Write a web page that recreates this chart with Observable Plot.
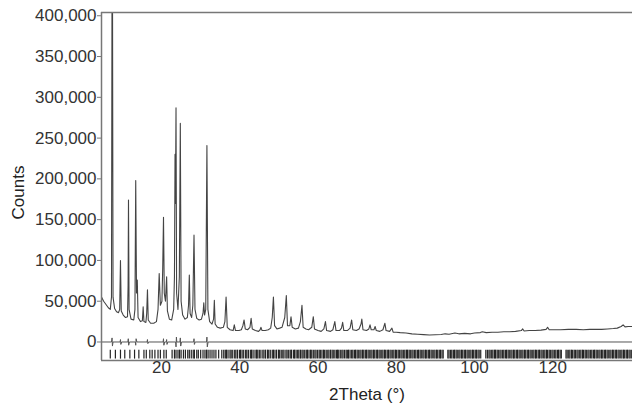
<!DOCTYPE html>
<html><head><meta charset="utf-8">
<script src="https://cdn.jsdelivr.net/npm/d3@7"></script>
<script src="https://cdn.jsdelivr.net/npm/@observablehq/plot@0.6"></script>
<style>body{margin:0;background:#fff} svg{display:block}</style>
</head><body><div id="chart"></div><script>
// Observed profile (2Theta in degrees, counts)
const twoTheta = [4.65,5.2,5.8,6.4,6.9,7.2,7.4,7.6,8.0,8.5,9.0,9.3,9.5,9.7,10.2,10.8,11.3,11.45,11.55,11.7,12.2,12.9,13.2,13.4,13.6,13.8,14.0,14.6,15.1,15.3,15.5,16.0,16.2,16.4,16.6,17.2,18.0,18.7,19.1,19.4,19.7,20.1,20.3,20.5,20.7,21.0,21.3,21.5,22.0,22.6,23.1,23.3,23.45,23.55,23.7,23.85,24.2,24.55,24.8,25.0,25.4,26.0,26.6,26.9,27.1,27.3,27.7,28.0,28.3,28.55,29.0,29.6,30.2,30.6,30.8,31.0,31.3,31.6,31.85,32.3,32.9,33.3,33.5,33.7,34.3,35.0,35.8,36.2,36.5,36.8,37.5,38.3,38.6,38.9,39.8,40.4,40.8,41.1,41.4,42.0,42.6,42.9,43.2,44.0,44.8,45.2,45.4,45.7,46.5,47.3,47.9,48.3,48.6,48.9,49.5,50.2,50.8,51.5,51.9,52.2,52.8,53.1,53.4,54.2,55.0,55.5,55.9,56.2,56.9,57.6,58.4,58.8,59.1,60.0,60.8,61.5,61.9,62.2,63.2,63.8,64.3,64.6,65.5,66.0,66.3,66.6,67.5,68.2,68.6,68.9,69.8,70.5,71.0,71.2,71.5,72.4,73.0,73.3,73.6,74.3,74.6,74.9,75.8,76.6,77.1,77.4,78.3,78.9,79.2,80.0,81.0,82.5,84.0,85.5,87.0,88.5,90.0,91.5,92.5,93.5,95.0,96.0,97.5,99.0,100.0,101.5,102.0,103.0,104.5,106.0,107.5,109.0,110.5,112.0,112.3,112.7,114.0,115.5,117.0,118.3,118.7,119.1,120.5,122.0,124.0,126.0,127.8,129.5,131.0,132.5,134.0,135.5,136.5,137.5,138.0,138.5,139.3,140.4];
const counts = [55000,50000,46000,42000,40000,55000,600000,55000,41000,37000,36000,40000,100000,38000,33000,30000,31000,70000,174000,40000,28000,27000,40000,198000,60000,76000,30000,25000,26000,43000,25000,24000,35000,64000,27000,23000,23000,25000,40000,84000,45000,50000,90000,153000,60000,50000,80000,38000,28000,27000,40000,80000,230000,170000,287000,60000,40000,80000,268000,50000,33000,28000,30000,45000,82000,35000,30000,45000,131000,40000,29000,27000,28000,35000,48000,33000,40000,241000,40000,25000,22000,28000,51000,22000,18000,17000,18000,25000,55000,18000,15000,14000,21000,14000,14000,15000,20000,27000,16000,15000,18000,29000,16000,14000,13000,15000,18000,14000,14000,15000,17000,30000,55000,20000,16000,17000,18000,30000,57000,20000,20000,31000,18000,16000,17000,25000,45000,18000,16000,15000,18000,31000,16000,14000,13000,16000,25000,14000,13000,15000,25000,14000,14000,17000,24000,14000,14000,17000,27000,15000,14000,16000,22000,28000,15000,14000,16000,21000,15000,15000,19000,14000,13000,15000,23000,14000,13000,17000,12000,12000,11500,11000,10000,9500,9000,8500,8800,9200,10000,9500,11000,10000,10500,10000,11000,11500,12500,11500,12000,12000,12500,12500,13000,14000,16000,13500,14000,14000,14500,15500,18000,15000,15000,15000,15500,15500,15000,15500,15500,15500,16000,16500,17000,19000,21000,18500,19000,19000];

// Difference curve (observed - calculated)
const diffTheta = [4.65,7.2,7.35,7.45,7.6,9.4,9.5,9.6,9.8,11.4,11.5,11.6,11.8,13.3,13.4,13.5,13.7,16.3,16.4,16.5,16.7,20.4,20.5,20.6,20.8,21.2,21.3,21.4,21.6,23.6,23.7,23.8,23.9,24.7,24.8,24.9,25.1,28.2,28.3,28.4,28.6,31.5,31.6,31.7,31.9,140.4];
const diffCounts = [0,0,5000,-5000,0,0,3000,-3000,0,0,4000,-4000,0,0,-4000,4000,0,0,3000,-2000,0,0,4000,-4000,0,0,3000,-3000,0,0,-6000,6000,0,0,5000,-5000,0,0,4000,-3000,0,0,6000,-6000,0,0];

// Reflection positions (2Theta)
const reflections = [6.9,8.2,9.5,10.6,11.9,13.1,14.2,15.5,16.1,17.0,17.6,18.3,19.1,19.7,20.6,21.2,22.7,23.3,23.7,24.2,24.6,25.0,25.6,26.1,26.7,27.1,27.6,28.1,28.4,29.0,29.4,30.0,30.6,31.1,31.5,31.9,32.4,32.9,33.4,33.9,34.6,35.4,35.9,36.3,36.6,37.0,37.5,37.8,38.2,38.7,39.0,39.4,39.9,40.2,40.6,41.0,41.5,41.8,42.2,42.7,43.0,43.4,43.9,44.3,44.6,45.0,45.4,45.9,46.2,46.6,47.1,47.4,47.8,48.3,48.6,49.0,49.4,49.9,50.2,50.6,51.0,51.3,51.8,52.1,52.5,52.9,53.2,53.7,54.0,54.4,54.8,55.1,55.5,55.9,56.2,56.6,57.0,57.3,57.7,58.1,58.4,58.8,59.2,59.5,59.9,60.3,60.6,61.0,61.4,61.7,62.1,62.5,62.8,63.2,63.6,63.9,64.3,64.7,65.0,65.3,65.7,66.1,66.4,66.8,67.2,67.5,67.8,68.2,68.6,68.9,69.3,69.6,70.0,70.3,70.7,71.0,71.4,71.7,72.1,72.4,72.8,73.1,73.5,73.8,74.2,74.5,74.9,75.2,75.6,75.9,76.3,76.6,77.0,77.3,77.7,78.0,78.4,78.7,79.1,79.4,79.8,80.1,80.5,80.8,81.2,81.5,81.9,82.2,82.6,82.9,83.3,83.6,84.0,84.3,84.7,85.0,85.4,85.7,86.1,86.4,86.8,87.1,87.5,87.8,88.2,88.5,88.9,89.2,89.6,89.9,90.3,90.6,91.0,91.3,91.7,92.0,93.2,93.5,93.9,94.2,94.6,94.9,95.3,95.6,96.0,96.3,96.7,97.0,97.4,97.7,98.1,98.4,98.8,99.1,99.5,99.8,100.2,100.5,100.9,101.2,101.6,102.9,103.3,103.7,104.0,104.4,104.7,105.1,105.4,105.8,106.1,106.5,106.8,107.2,107.5,107.9,108.2,108.6,108.9,109.3,109.6,110.0,110.3,110.7,111.0,111.4,111.7,112.1,112.4,112.8,113.1,113.5,113.8,114.2,114.5,114.9,115.2,115.6,115.9,116.3,116.6,117.0,117.3,117.7,118.0,118.4,118.7,119.1,119.4,119.8,120.1,120.5,120.8,121.2,121.5,121.9,122.2,123.4,123.7,124.1,124.4,124.8,125.1,125.5,125.8,126.2,126.5,126.9,127.2,127.6,127.9,128.3,128.6,129.0,129.3,129.7,130.0,130.4,130.7,131.1,131.4,131.8,132.1,132.5,132.8,133.2,133.5,133.9,134.2,134.6,134.9,135.3,135.6,136.0,136.3,136.7,137.0,137.4,137.7,138.1,138.4,138.8,139.1,139.5,139.8,140.2];

const xTicks = [20, 40, 60, 80, 100, 120];
const yTicks = [0, 50000, 100000, 150000, 200000, 250000, 300000, 350000, 400000];
const xDomain = [4.65, 140.4];
const yDomain = [-22700, 404000];

const profile = twoTheta.map((t, i) => ({t, c: counts[i]}));
const diff = diffTheta.map((t, i) => ({t, c: diffCounts[i]}));

const chart = Plot.plot({
  width: 632, height: 404,
  marginLeft: 101, marginRight: 0, marginTop: 12, marginBottom: 44,
  x: {domain: xDomain, label: null},
  y: {domain: yDomain, label: null},
  style: {fontFamily: "'Liberation Sans', Arial, sans-serif", fontSize: "17px", color: "#333", background: "#fff"},
  marks: [
    Plot.ruleX(reflections, {x: d => d, y1: -10000, y2: -21000, stroke: "#222", strokeWidth: 1.2}),
    Plot.line(diff, {x: "t", y: "c", stroke: "#555", strokeWidth: 1}),
    Plot.line(profile, {x: "t", y: "c", stroke: "#444", strokeWidth: 1.1, clip: true}),
    Plot.ruleX([xDomain[0]], {stroke: "#777", strokeWidth: 1.5}),
    Plot.ruleY(yDomain, {stroke: "#777", strokeWidth: 1.5}),
    Plot.axisY({ticks: yTicks, tickFormat: d3.format(","), tickSize: 4, tickPadding: 1, label: null, stroke: "#777", fontSize: 17}),
    Plot.axisX({ticks: xTicks, tickSize: 0, tickPadding: 0, label: null, fontSize: 17}),
    Plot.text(["Counts"], {text: d => d, frameAnchor: "left", textAnchor: "middle", lineAnchor: "middle", dx: -83, dy: 6, rotate: -90, fontSize: 17, fill: "#222"}),
    Plot.text(["2Theta (°)"], {text: d => d, frameAnchor: "bottom", textAnchor: "middle", lineAnchor: "middle", dy: 34, fontSize: 17, fill: "#222"})
  ]
});
document.getElementById("chart").append(chart);
</script></body></html>
